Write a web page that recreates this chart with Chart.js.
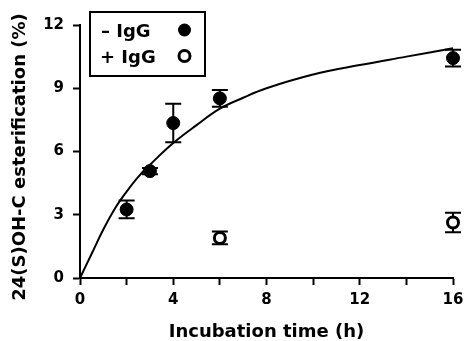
<!DOCTYPE html>
<html>
<head>
<meta charset="utf-8">
<script src="https://cdn.jsdelivr.net/npm/chart.js@4/dist/chart.umd.min.js"></script>
<style>
html,body{margin:0;padding:0;background:#fff;}
#wrap{width:465px;height:341px;}
</style>
</head>
<body>
<div id="wrap"><canvas id="c" width="465" height="341"></canvas></div>
<script>
// Data
const timeNoIgG = [2, 3, 4, 6, 16];
const estNoIgG = [3.25, 5.07, 7.35, 8.52, 10.43];
const errNoIgG = [0.42, 0.15, 0.91, 0.4, 0.4];

const timeIgG = [6, 16];
const estIgG = [1.9, 2.63];
const errIgG = [0.3, 0.46];

const fitX = [0, 0.5, 1, 1.5, 2, 2.5, 3, 4, 5, 6, 7, 8, 10, 12, 14, 16];
const fitY = [0, 1.15, 2.3, 3.3, 4.1, 4.8, 5.37, 6.4, 7.25, 8.03, 8.55, 9.0, 9.65, 10.1, 10.5, 10.9];

const xTicks = [0, 4, 8, 12, 16];
const yTicks = [0, 3, 6, 9, 12];
const legendLabels = ['\u2013 IgG', '+ IgG'];
const yTitle = '24(S)OH-C esterification (%)';
const xTitle = 'Incubation time (h)';

const toPts = (xs, ys) => xs.map((x, i) => ({x: x, y: ys[i]}));

const FONT = "'DejaVu Sans'";
Chart.defaults.font.family = FONT;
Chart.defaults.color = '#000';

const errorBars = {
  id: 'errorBars',
  beforeDatasetsDraw(chart) {
    const ctx = chart.ctx;
    const xs = chart.scales.x, ys = chart.scales.y;
    const sets = [[timeNoIgG, estNoIgG, errNoIgG], [timeIgG, estIgG, errIgG]];
    ctx.save();
    ctx.strokeStyle = '#000';
    ctx.lineWidth = 2;
    sets.forEach(([tx, ty, te]) => {
      tx.forEach((t, i) => {
        const px = xs.getPixelForValue(t);
        const top = ys.getPixelForValue(ty[i] + te[i]);
        const bot = ys.getPixelForValue(ty[i] - te[i]);
        ctx.beginPath();
        ctx.moveTo(px, top); ctx.lineTo(px, bot);
        ctx.moveTo(px - 8, top); ctx.lineTo(px + 8, top);
        ctx.moveTo(px - 8, bot); ctx.lineTo(px + 8, bot);
        ctx.stroke();
      });
    });
    ctx.restore();
  }
};

const extras = {
  id: 'extras',
  afterDraw(chart) {
    const ctx = chart.ctx;
    ctx.save();
    // y axis title
    ctx.save();
    ctx.translate(20, 157);
    ctx.rotate(-Math.PI / 2);
    ctx.font = 'bold 18px ' + FONT;
    ctx.fillStyle = '#000';
    ctx.textAlign = 'center';
    ctx.textBaseline = 'middle';
    ctx.fillText(yTitle, 0, 0);
    ctx.restore();
    // legend box
    ctx.strokeStyle = '#000';
    ctx.lineWidth = 2;
    ctx.fillStyle = '#fff';
    ctx.fillRect(90, 12, 115, 64);
    ctx.strokeRect(90, 12, 115, 64);
    ctx.fillStyle = '#000';
    ctx.font = 'bold 18px ' + FONT;
    ctx.textBaseline = 'alphabetic';
    ctx.textAlign = 'left';
    ctx.fillText(legendLabels[0], 101, 37);
    ctx.fillText(legendLabels[1], 100, 63);
    ctx.beginPath();
    ctx.arc(184.5, 30, 6.5, 0, Math.PI * 2);
    ctx.fill();
    ctx.beginPath();
    ctx.lineWidth = 3;
    ctx.arc(184.5, 56, 5.5, 0, Math.PI * 2);
    ctx.stroke();
    ctx.restore();
  }
};

new Chart(document.getElementById('c'), {
  type: 'scatter',
  data: {
    datasets: [
      {
        label: 'fit',
        data: toPts(fitX, fitY),
        showLine: true,
        borderColor: '#000',
        borderWidth: 2,
        pointRadius: 0,
        tension: 0.4,
        clip: false,
        order: 3
      },
      {
        label: legendLabels[0],
        data: toPts(timeNoIgG, estNoIgG),
        pointRadius: 6.5,
        pointBackgroundColor: '#000',
        pointBorderColor: '#000',
        pointBorderWidth: 1,
        clip: false,
        order: 1
      },
      {
        label: legendLabels[1],
        data: toPts(timeIgG, estIgG),
        pointRadius: 5.5,
        pointBackgroundColor: '#fff',
        pointBorderColor: '#000',
        pointBorderWidth: 3,
        clip: false,
        order: 2
      }
    ]
  },
  options: {
    responsive: false,
    animation: false,
    events: [],
    layout: {padding: {left: 0, right: 0, top: 25, bottom: 0}},
    plugins: {legend: {display: false}, tooltip: {enabled: false}},
    scales: {
      x: {
        type: 'linear', min: 0, max: 16,
        afterFit(s) { s.height = 63; s.paddingRight = 12; },
        afterBuildTicks(s) { s.ticks = [0,2,4,6,8,10,12,14,16].map(v => ({value: v})); },
        ticks: {
          autoSkip: false, maxRotation: 0, padding: 6,
          font: {size: 15, weight: 'bold'},
          callback: v => xTicks.includes(v) ? String(v) : ''
        },
        grid: {display: true, drawOnChartArea: false, drawTicks: true, tickLength: 7, tickWidth: 2, tickColor: '#000'},
        border: {display: true, color: '#000', width: 2},
        title: {display: true, text: xTitle, font: {size: 18, weight: 'bold'}, padding: {top: 3, bottom: -2}}
      },
      y: {
        type: 'linear', min: 0, max: 12,
        afterFit(s) { s.width = 80; },
        afterBuildTicks(s) { s.ticks = yTicks.map(v => ({value: v})); },
        ticks: {
          autoSkip: false, padding: 9,
          font: {size: 15, weight: 'bold'}
        },
        grid: {display: true, drawOnChartArea: false, drawTicks: true, tickLength: 7, tickWidth: 2, tickColor: '#000'},
        border: {display: true, color: '#000', width: 2},
        title: {display: false}
      }
    }
  },
  plugins: [errorBars, extras]
});
</script>
</body>
</html>
